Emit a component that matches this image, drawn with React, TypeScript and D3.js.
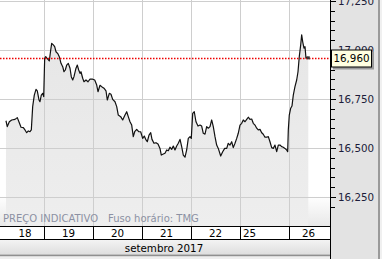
import React from "react";
import * as d3 from "d3";

// ---- data ----
const dayLabels = ["18", "19", "20", "21", "22", "25", "26"];
const monthLabel = "setembro 2017";
const yTickValues = [16250, 16500, 16750, 17000, 17250];
const lastPrice = 16960;
const footLeft = "PREÇO INDICATIVO";
const footRight = "Fuso horário: TMG";

// trading-day position (0 = start of 18th) and price
const times = [
  0.224, 0.251, 0.292, 0.341, 0.408, 0.455, 0.496, 0.531, 0.578, 0.612, 0.647, 0.68, 0.714, 0.741,
  0.769, 0.802, 0.837, 0.863, 0.898, 0.918, 0.945, 0.973, 0.994, 1.014, 1.035, 1.076, 1.108, 1.137,
  1.157, 1.19, 1.218, 1.245, 1.286, 1.312, 1.347, 1.382, 1.408, 1.435, 1.463, 1.496, 1.531, 1.557,
  1.586, 1.612, 1.653, 1.68, 1.708, 1.735, 1.755, 1.79, 1.816, 1.857, 1.898, 1.939, 1.994, 2.035,
  2.076, 2.102, 2.143, 2.178, 2.224, 2.265, 2.292, 2.333, 2.367, 2.402, 2.449, 2.484, 2.516, 2.565,
  2.606, 2.653, 2.688, 2.72, 2.755, 2.79, 2.822, 2.851, 2.892, 2.933, 2.973, 3.014, 3.047, 3.082,
  3.108, 3.143, 3.178, 3.204, 3.245, 3.286, 3.327, 3.367, 3.394, 3.435, 3.469, 3.504, 3.537, 3.571,
  3.606, 3.639, 3.673, 3.708, 3.741, 3.776, 3.81, 3.843, 3.878, 3.912, 3.945, 3.98, 4.006, 4.035,
  4.067, 4.102, 4.143, 4.184, 4.218, 4.251, 4.286, 4.32, 4.353, 4.388, 4.422, 4.455, 4.49, 4.524,
  4.557, 4.606, 4.647, 4.688, 4.729, 4.761, 4.796, 4.831, 4.863, 4.898, 4.933, 4.965, 5.0, 5.035,
  5.067, 5.102, 5.137, 5.169, 5.204, 5.239, 5.271, 5.306, 5.341, 5.373, 5.408, 5.443, 5.475, 5.51,
  5.545, 5.578, 5.612, 5.647, 5.68, 5.714, 5.749, 5.782, 5.816, 5.851, 5.884, 5.918, 5.953, 5.973,
  5.986, 6.006, 6.035, 6.061, 6.088, 6.122, 6.157, 6.184, 6.21, 6.239, 6.259, 6.28, 6.306, 6.327,
  6.347, 6.367, 6.394,
];
const prices = [
  16639, 16609, 16634, 16643, 16646, 16655, 16629, 16606, 16604, 16592, 16578, 16587, 16583, 16592,
  16711, 16770, 16799, 16791, 16745, 16736, 16770, 16779, 16762, 16958, 16966, 16953, 16944, 17000,
  17034, 17026, 17017, 16991, 16980, 16966, 16932, 16915, 16889, 16898, 16923, 16932, 16907, 16864,
  16847, 16864, 16907, 16923, 16898, 16881, 16889, 16856, 16838, 16847, 16838, 16851, 16851, 16847,
  16821, 16787, 16820, 16813, 16805, 16792, 16745, 16779, 16774, 16748, 16736, 16711, 16668, 16660,
  16643, 16668, 16685, 16660, 16634, 16617, 16558, 16583, 16595, 16583, 16583, 16549, 16561, 16541,
  16532, 16566, 16578, 16544, 16524, 16527, 16520, 16498, 16464, 16469, 16473, 16490, 16486, 16504,
  16493, 16510, 16490, 16510, 16524, 16544, 16507, 16464, 16453, 16490, 16549, 16558, 16549, 16677,
  16685, 16634, 16612, 16617, 16612, 16575, 16571, 16609, 16601, 16609, 16643, 16609, 16558, 16515,
  16498, 16459, 16481, 16498, 16498, 16524, 16515, 16532, 16502, 16524, 16549, 16575, 16617, 16626,
  16643, 16634, 16646, 16657, 16646, 16648, 16626, 16617, 16601, 16592, 16595, 16578, 16570, 16555,
  16555, 16558, 16532, 16502, 16498, 16515, 16481, 16515, 16515, 16507, 16504, 16498, 16490, 16481,
  16592, 16668, 16703, 16714, 16770, 16813, 16847, 16889, 16966, 17026, 17077, 17042, 17009, 17017,
  16958, 16963, 16960,
];

const W = 382;
const H = 259;
const plotRight = 330;
const plotBottom = 226;
const dateRowBottom = 239.5;
const monthRowBottom = 254.5;
const FONT = "'DejaVu Sans', Verdana, sans-serif";

export default function App() {
  const x = d3.scaleLinear().domain([0, 6.837]).range([-5, plotRight]);
  const y = d3.scaleLinear().domain([16250, 17250]).range([197, 1]);

  const series = times.map((t, i) => ({ t, v: prices[i] }));
  const line = d3
    .line<{ t: number; v: number }>()
    .x((d) => x(d.t))
    .y((d) => y(d.v));
  const area = d3
    .area<{ t: number; v: number }>()
    .x((d) => x(d.t))
    .y0(plotBottom)
    .y1((d) => y(d.v));

  const minorTicks = d3.range(16200, 17300, 50).filter((v) => y(v) >= 0 && y(v) <= H);
  const dayBounds = dayLabels.map((_, i) => x(i));
  const last = series[series.length - 1];
  const yLast = Math.round(y(lastPrice)) + 0.5;

  return (
    <div style={{ position: "fixed", left: 0, top: 0 }}>
      <svg width={W} height={H} style={{ display: "block" }}>
        <defs>
          <linearGradient id="bgBand" x1="0" y1="0" x2="0" y2="1">
            <stop offset="0" stopColor="#ffffff" />
            <stop offset="1" stopColor="#e8e8e8" />
          </linearGradient>
          <linearGradient id="areaFill" gradientUnits="userSpaceOnUse" x1="0" y1="30" x2="0" y2={plotBottom}>
            <stop offset="0" stopColor="#e6e6e6" />
            <stop offset="1" stopColor="#eeeeee" />
          </linearGradient>
          <linearGradient id="monthFill" x1="0" y1="0" x2="0" y2="1">
            <stop offset="0" stopColor="#f3f3f3" />
            <stop offset="1" stopColor="#dedede" />
          </linearGradient>
        </defs>

        <rect x={0} y={0} width={W} height={H} fill="#ffffff" />
        {/* bottom background band */}
        <rect x={0} y={196} width={plotRight} height={plotBottom - 196} fill="url(#bgBand)" />

        {/* area */}
        <path d={area(series) || ""} fill="url(#areaFill)" />

        {/* grid */}
        {yTickValues.map((v) => (
          <line key={"gy" + v} x1={0} x2={plotRight} y1={Math.round(y(v)) + 0.5} y2={Math.round(y(v)) + 0.5} stroke="#cecece" strokeWidth={1} />
        ))}
        {dayBounds.slice(1).map((bx, i) => (
          <line key={"gx" + i} x1={Math.round(bx) + 0.5} x2={Math.round(bx) + 0.5} y1={0} y2={plotBottom} stroke="#cecece" strokeWidth={1} />
        ))}

        {/* footer texts */}
        <text x={3} y={222} fontFamily={FONT} fontSize={10} fill="#8c91a3">{footLeft}</text>
        <text x={108} y={222} fontFamily={FONT} fontSize={10} fill="#8c91a3">{footRight}</text>

        {/* price line */}
        <path d={line(series) || ""} fill="none" stroke="#111111" strokeWidth={1.2} strokeLinejoin="round" />

        {/* last price dotted line */}
        <line x1={0} x2={plotRight} y1={yLast} y2={yLast} stroke="#ee0000" strokeWidth={1.5} strokeDasharray="1.5,1.5" />
        <rect x={x(last.t) - 1.5} y={y(last.v) - 1.5} width={3} height={3} fill="#333" />

        {/* date row */}
        <rect x={0} y={plotBottom} width={plotRight} height={dateRowBottom - plotBottom} fill="#ffffff" />
        <line x1={0} x2={plotRight} y1={plotBottom + 0.5} y2={plotBottom + 0.5} stroke="#000" />
        <line x1={0} x2={plotRight} y1={dateRowBottom} y2={dateRowBottom} stroke="#000" />
        {dayBounds.slice(1).map((bx, i) => (
          <line key={"ds" + i} x1={Math.round(bx) + 0.5} x2={Math.round(bx) + 0.5} y1={plotBottom} y2={dateRowBottom} stroke="#000" />
        ))}
        {dayLabels.map((d, i) => {
          const left = Math.max(dayBounds[i], x(times[0]));
          const right = Math.min(i + 1 < dayBounds.length ? dayBounds[i + 1] : plotRight, plotRight - 2);
          const startAligned = d === "25";
          return (
            <text
              key={"dl" + d}
              x={startAligned ? dayBounds[i] + 3 : (left + right) / 2}
              y={236.5}
              textAnchor={startAligned ? "start" : "middle"}
              fontFamily={FONT}
              fontSize={10.3}
              fill="#000"
            >
              {d}
            </text>
          );
        })}

        {/* month row */}
        <rect x={0} y={dateRowBottom + 0.5} width={plotRight} height={monthRowBottom - dateRowBottom - 0.5} fill="url(#monthFill)" />
        <text x={164} y={251.5} textAnchor="middle" fontFamily={FONT} fontSize={10.3} fill="#000">{monthLabel}</text>
        <rect x={0} y={monthRowBottom} width={plotRight} height={2} fill="#8f8f8f" />
        <rect x={0} y={monthRowBottom + 2} width={plotRight} height={H - monthRowBottom - 2} fill="#eeeeee" />

        {/* right axis panel */}
        <rect x={plotRight} y={0} width={48} height={H} fill="#e3e3e3" />
        <rect x={378} y={0} width={2} height={H} fill="#9a9a9a" />
        <rect x={380} y={0} width={2} height={H} fill="#f0f0f0" />
        <line x1={plotRight + 0.5} x2={plotRight + 0.5} y1={0} y2={H} stroke="#000" />
        {minorTicks.map((v) => {
          const major = v % 250 === 0;
          return (
            <line key={"mt" + v} x1={plotRight} x2={plotRight + (major ? 6 : 5)} y1={Math.round(y(v)) + 0.5} y2={Math.round(y(v)) + 0.5} stroke="#000" />
          );
        })}
        {yTickValues.map((v) => (
          <text key={"yl" + v} x={338} y={y(v)} dy="0.35em" fontFamily={FONT} fontSize={10.3} fill="#1c1c3a">
            {d3.format(",")(v)}
          </text>
        ))}

        {/* last price label */}
        <rect x={333} y={yLast - 7} width={41} height={18} fill="#9a9a9a" />
        <rect x={331.5} y={yLast - 8.5} width={40} height={17} fill="#ffffe1" stroke="#000" />
        <text x={351.5} y={yLast} dy="0.36em" textAnchor="middle" fontFamily={FONT} fontSize={10.3} fill="#000">
          {d3.format(",")(lastPrice)}
        </text>
      </svg>
    </div>
  );
}
